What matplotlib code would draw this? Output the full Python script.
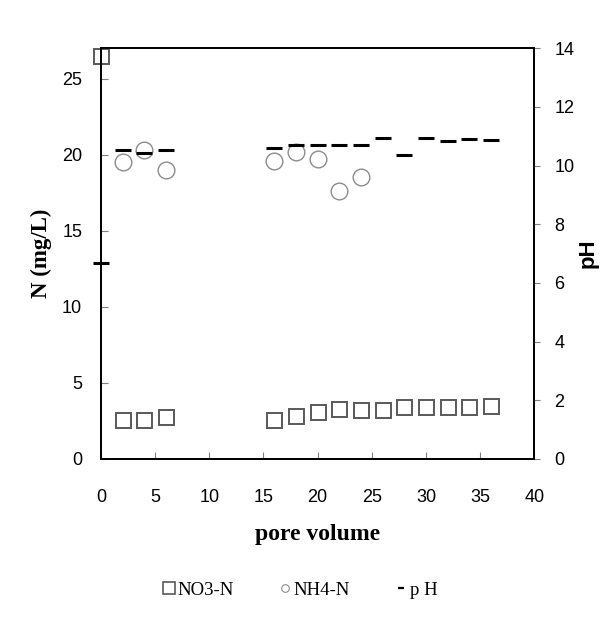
import matplotlib.pyplot as plt
from matplotlib.lines import Line2D

plt.rcParams.update({
    'font.family': 'Liberation Sans',
    'font.size': 13,
})

# data
pv = [0, 2, 4, 6, 16, 18, 20, 22, 24, 26, 28, 30, 32, 34, 36]
no3 = [26.5, 2.57, 2.57, 2.78, 2.57, 2.83, 3.09, 3.29, 3.24, 3.22, 3.44, 3.44, 3.44, 3.44, 3.49]
pv_nh4 = [2, 4, 6, 16, 18, 20, 22, 24]
nh4 = [19.52, 20.33, 18.97, 19.56, 20.18, 19.69, 17.63, 18.57]
ph = [6.68, 10.53, 10.42, 10.53, 10.59, 10.70, 10.70, 10.70, 10.70, 10.95, 10.36, 10.95, 10.83, 10.91, 10.86]

SQ = '#595959'
CI = '#8C8C8C'

fig = plt.figure(figsize=(6.08, 6.38), dpi=100)
ax = fig.add_axes([0.166, 0.2806, 0.713, 0.6437])
ax2 = ax.twinx()

ax.plot(pv, no3, 's', ms=10.8, mfc='none', mec=SQ, mew=1.4, clip_on=False, zorder=3)
ax.plot(pv_nh4, nh4, 'o', ms=12, mfc='none', mec=CI, mew=1.0, clip_on=False, zorder=3)
ax2.plot(pv, ph, '_', ms=11, mec='black', mew=2.2, clip_on=False, zorder=4)

ax.set_xlim(0, 40)
ax.set_ylim(0, 27)
ax2.set_ylim(0, 14)
ax.set_xticks(range(0, 41, 5))
ax.set_yticks(range(0, 26, 5))
ax2.set_yticks(range(0, 15, 2))

for a in (ax, ax2):
    for s in a.spines.values():
        s.set_linewidth(1.3)
        s.set_color('black')
ax.tick_params(axis='both', direction='in', length=5, width=0.8, color='#808080')
ax.tick_params(axis='y', pad=13.5)
ax.tick_params(axis='x', pad=21.5)
ax2.tick_params(axis='y', direction='out', length=4.3, width=0.8, color='#808080', pad=10)

ax.set_xlabel('pore volume', family='Liberation Serif', fontweight='bold', fontsize=17, labelpad=13)
ax.set_ylabel('N (mg/L)', family='Liberation Serif', fontweight='bold', fontsize=16.5, labelpad=7)
ax2.set_ylabel('pH', fontweight='bold', fontsize=16, labelpad=2)

handles = [
    Line2D([], [], ls='none', marker='s', ms=8, mfc='none', mec=SQ, mew=1.2),
    Line2D([], [], ls='none', marker='o', ms=5.5, mfc='none', mec=CI, mew=0.8),
    Line2D([], [], ls='none', marker='_', ms=4, mec='black', mew=1.6),
]
fig.legend(handles, ['NO3-N', 'NH4-N', 'p H'], ncol=3, loc='center',
           bbox_to_anchor=(0.494, 0.075), frameon=False, handlelength=0.6,
           handletextpad=0.18, columnspacing=2.4,
           prop={'family': 'Liberation Serif', 'size': 13.5})

fig.savefig('out.png', dpi=100, facecolor='white')
